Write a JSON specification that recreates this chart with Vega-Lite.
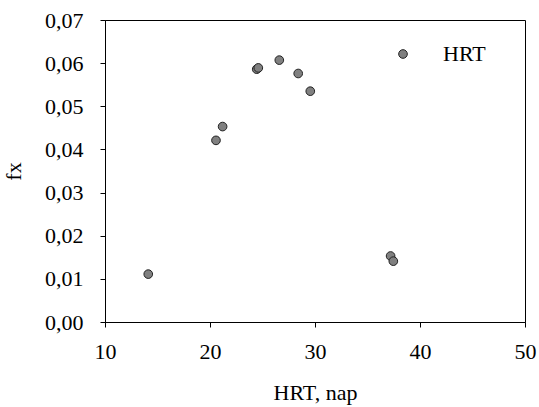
{
  "$schema": "https://vega.github.io/schema/vega-lite/v6.json",
  "width": 420,
  "height": 302,
  "autosize": {"type": "none"},
  "padding": {"left": 105, "top": 20, "right": 14, "bottom": 85},
  "background": "white",
  "config": {
    "font": "Liberation Serif",
    "view": {"stroke": "black", "strokeWidth": 1},
    "axis": {
      "grid": false,
      "domainColor": "black",
      "tickColor": "black",
      "labelColor": "black",
      "titleColor": "black",
      "labelFont": "Liberation Serif",
      "titleFont": "Liberation Serif",
      "labelFontSize": 22,
      "titleFontSize": 22,
      "titleFontWeight": "normal",
      "tickSize": 5
    }
  },
  "data": {
    "values": [
      {"hrt": 14.12, "fx": 0.0111},
      {"hrt": 20.57, "fx": 0.0421},
      {"hrt": 21.2, "fx": 0.0453},
      {"hrt": 24.45, "fx": 0.0586},
      {"hrt": 24.6, "fx": 0.0589},
      {"hrt": 26.6, "fx": 0.0607},
      {"hrt": 28.4, "fx": 0.0576},
      {"hrt": 29.55, "fx": 0.0535},
      {"hrt": 37.2, "fx": 0.0153},
      {"hrt": 37.46, "fx": 0.0141}
    ]
  },
  "mark": {"type": "point", "filled": true, "shape": "circle", "size": 75, "stroke": "#222222", "strokeWidth": 1, "opacity": 1},
  "encoding": {
    "x": {
      "field": "hrt",
      "type": "quantitative",
      "scale": {"domain": [10, 50], "nice": false, "zero": false},
      "axis": {"title": "HRT, nap", "values": [10, 20, 30, 40, 50], "labelPadding": 14, "titlePadding": 20, "labelFlush": false}
    },
    "y": {
      "field": "fx",
      "type": "quantitative",
      "scale": {"domain": [0, 0.07], "nice": false},
      "axis": {"title": "fx", "values": [0, 0.01, 0.02, 0.03, 0.04, 0.05, 0.06, 0.07], "labelExpr": "replace(format(datum.value, '.2f'), '.', ',')", "labelPadding": 17, "titlePadding": 19, "labelFlush": false}
    },
    "color": {
      "datum": "HRT",
      "scale": {"range": ["#808080"]},
      "legend": {
        "title": null,
        "orient": "none",
        "legendX": 287,
        "legendY": 23,
        "padding": 0,
        "symbolSize": 75,
        "symbolType": "circle",
        "symbolStrokeColor": "#222222",
        "symbolStrokeWidth": 1,
        "symbolFillColor": "#808080",
        "labelFont": "Liberation Serif",
        "labelFontSize": 22,
        "labelColor": "black",
        "labelOffset": 29
      }
    }
  }
}
